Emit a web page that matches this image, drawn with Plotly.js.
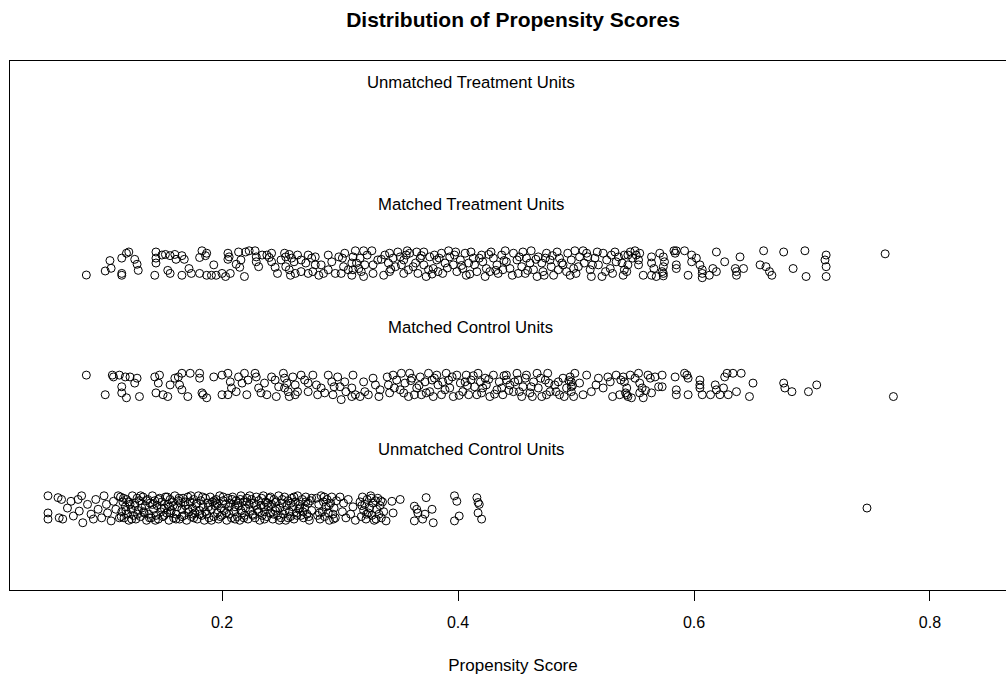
<!DOCTYPE html>
<html><head><meta charset="utf-8">
<script src="https://cdn.plot.ly/plotly-3.0.1.min.js"></script>
<style>html,body{margin:0;padding:0;overflow:hidden;background:#fff}#chart{width:1026px;height:675px}</style>
</head><body><div id="chart"></div>
<script>
// Group labels and their row levels (top to bottom)
const groupNames = ["Unmatched Treatment Units","Matched Treatment Units","Matched Control Units","Unmatched Control Units"];
const groupLevels = [4, 3, 2, 1];

// Each point: [propensity score, vertical jitter]
const unmatchedTreatment = [];

const matchedTreatment = [
[0.085,-0.098],[0.101,-0.065],[0.106,-0.043],[0.105,0.02],[0.115,0.04],[0.119,0.08],[0.121,0.09],[0.126,0.03],[0.128,-0.01],[0.129,-0.06],[0.115,-0.085],[0.115,-0.10],[0.144,0.09],[0.149,0.065],[0.152,0.07],[0.156,0.06],[0.160,0.07],[0.166,0.06],[0.168,0.03],[0.161,0.03],[0.144,0.04],[0.144,0.0],[0.143,-0.1],[0.154,-0.06],[0.156,-0.085],[0.166,-0.1],[0.172,-0.045],[0.174,-0.085],[0.183,0.1],[0.187,0.08],[0.186,0.06],[0.181,0.045],[0.193,-0.015],[0.181,-0.085],[0.187,-0.1],[0.191,-0.1],[0.195,-0.1],[0.200,-0.085],[0.203,-0.11],[0.205,0.08],[0.206,0.05],[0.205,0.03],[0.207,-0.085],[0.214,0.09],[0.216,0.025],[0.212,-0.01],[0.215,-0.035],[0.219,-0.11],[0.220,0.09],[0.223,0.1],[0.228,0.1],[0.229,0.05],[0.229,0.01],[0.231,-0.03],[0.234,0.065],[0.238,0.065],[0.242,0.08],[0.240,0.045],[0.242,0.01],[0.245,-0.035],[0.247,-0.085],[0.253,0.08],[0.254,0.05],[0.257,0.07],[0.259,0.04],[0.261,0.01],[0.254,-0.03],[0.257,-0.055],[0.258,-0.1],[0.262,-0.085],[0.267,-0.07],[0.271,0.0],[0.273,0.065],[0.276,0.04],[0.279,0.05],[0.279,-0.015],[0.282,-0.1],[0.286,-0.085],[0.290,-0.055],[0.293,0.01],[0.299,0.05],[0.302,0.04],[0.304,0.08],[0.303,-0.03],[0.301,-0.085],[0.310,0.0],[0.310,-0.1],[0.307,-0.055],[0.250,0.025],[0.264,0.065],[0.267,0.025],[0.273,-0.085],[0.277,-0.07],[0.290,0.065],[0.296,-0.085],[0.284,-0.015],
[0.313,0.10],[0.320,0.10],[0.327,0.10],[0.311,0.05],[0.317,0.04],[0.323,0.065],[0.314,0.0],[0.321,-0.015],[0.328,-0.015],[0.311,-0.055],[0.318,-0.07],[0.320,-0.11],[0.328,-0.085],[0.337,-0.1],[0.338,0.065],[0.342,0.08],[0.345,0.04],[0.349,0.09],[0.351,0.05],[0.354,0.025],[0.341,0.0],[0.347,-0.03],[0.352,-0.015],[0.342,-0.07],[0.354,-0.085],[0.358,-0.055],[0.359,0.08],[0.365,0.09],[0.371,0.09],[0.368,0.04],[0.364,0.0],[0.371,-0.015],[0.366,-0.085],[0.373,-0.11],[0.376,0.05],[0.380,0.065],[0.382,0.025],[0.379,-0.045],[0.383,-0.07],[0.387,-0.085],[0.389,0.0],[0.392,0.10],[0.393,0.05],[0.396,-0.015],[0.399,-0.07],[0.402,0.025],[0.406,0.08],[0.404,-0.045],[0.407,-0.1],[0.411,0.09],[0.413,0.04],[0.414,-0.015],[0.416,-0.07],[0.420,0.065],[0.421,0.01],[0.423,-0.11],[0.424,-0.045],[0.428,0.09],[0.430,0.04],[0.433,-0.015],[0.434,-0.085],[0.437,0.065],[0.440,0.10],[0.441,0.01],[0.444,-0.045],[0.447,0.08],[0.450,0.025],[0.451,-0.085],[0.454,-0.03],[0.455,0.09],[0.458,0.04],[0.461,0.0],[0.462,0.10],[0.464,-0.055],[0.467,-0.11],[0.468,0.05],[0.471,0.0],[0.472,-0.07],[0.475,0.08],[0.478,0.025],[0.479,-0.03],[0.481,-0.1],[0.484,0.09],[0.486,0.04],[0.489,-0.015],[0.492,-0.07],[0.493,0.08],[0.496,0.025],[0.498,-0.045],[0.500,-0.085],[0.503,0.05],[0.506,0.10],[0.507,0.0],[0.509,0.08],[0.512,-0.055],[0.513,-0.11],[0.516,0.04],[0.519,-0.015],[0.522,-0.11],[0.523,0.08],[0.526,0.025],[0.529,-0.045],[0.531,-0.085],[0.533,0.09],[0.536,0.05],[0.539,0.0],[0.541,-0.055],[0.544,0.065],[0.316,-0.045],[0.332,0.025],[0.356,0.065],[0.375,-0.055],[0.386,0.08],[0.397,0.065],[0.409,0.0],[0.427,-0.07],[0.438,-0.055],[0.457,-0.085],[0.474,0.04],[0.485,-0.055],[0.499,0.10],[0.514,-0.015],[0.530,0.065],
[0.335,0.03],[0.343,-0.05],[0.357,0.1],[0.362,-0.03],[0.369,0.06],[0.378,-0.09],[0.384,0.04],[0.391,-0.04],[0.398,0.09],[0.403,-0.02],[0.410,-0.09],[0.418,0.04],[0.426,0.07],[0.432,-0.06],[0.439,0.02],[0.446,-0.1],[0.452,0.05],[0.459,-0.06],[0.466,0.03],[0.473,-0.1],[0.480,0.06],[0.488,0.0],[0.495,-0.1],[0.502,-0.03],[0.510,0.05],[0.518,0.09],[0.525,-0.07],[0.534,0.01],[0.540,-0.1],[0.548,0.04],
[0.541,0.065],[0.543,-0.07],[0.544,-0.015],[0.546,0.09],[0.550,0.10],[0.551,0.065],[0.553,0.025],[0.553,-0.015],[0.554,0.08],[0.564,0.05],[0.564,0.0],[0.566,-0.045],[0.557,-0.1],[0.564,-0.1],[0.568,-0.11],[0.571,0.08],[0.574,0.05],[0.575,0.01],[0.574,-0.03],[0.573,-0.07],[0.574,-0.085],[0.574,-0.105],[0.583,0.10],[0.585,0.10],[0.585,-0.015],[0.585,-0.045],[0.584,0.08],[0.592,0.10],[0.595,-0.1],[0.598,0.065],[0.598,0.01],[0.602,0.04],[0.605,-0.015],[0.607,-0.055],[0.607,-0.085],[0.607,-0.12],[0.613,-0.1],[0.616,-0.045],[0.619,-0.07],[0.619,0.09],[0.626,0.01],[0.635,-0.045],[0.636,-0.07],[0.636,-0.1],[0.639,0.05],[0.642,-0.045],[0.656,-0.015],[0.659,0.10],[0.661,-0.03],[0.664,-0.07],[0.666,-0.1],[0.676,0.09],[0.684,-0.045],[0.694,0.10],[0.695,-0.11],[0.712,0.065],[0.711,0.025],[0.712,-0.03],[0.712,-0.11],[0.762,0.075]
];

const matchedControl = [
[0.085,0.085],[0.101,-0.075],[0.107,0.085],[0.108,0.07],[0.113,0.085],[0.118,0.07],[0.122,0.07],[0.128,0.06],[0.126,0.02],[0.115,-0.01],[0.115,-0.06],[0.119,-0.10],[0.130,-0.09],[0.143,0.07],[0.147,0.085],[0.146,0.02],[0.144,-0.06],[0.150,-0.075],[0.154,-0.09],[0.156,0.005],[0.160,0.06],[0.163,0.07],[0.166,0.10],[0.173,0.10],[0.164,0.005],[0.166,-0.035],[0.171,-0.09],[0.181,0.10],[0.181,0.06],[0.183,-0.06],[0.184,-0.075],[0.187,-0.10],[0.193,0.07],[0.200,0.085],[0.200,-0.075],[0.205,0.10],[0.207,0.03],[0.208,-0.02],[0.205,-0.075],[0.212,-0.05],[0.214,0.07],[0.217,0.02],[0.219,0.10],[0.221,-0.075],[0.222,0.045],[0.228,0.10],[0.229,0.07],[0.231,-0.02],[0.233,-0.06],[0.238,-0.075],[0.242,0.07],[0.245,0.045],[0.246,-0.09],[0.252,0.10],[0.253,0.06],[0.255,0.02],[0.253,-0.02],[0.256,-0.05],[0.257,-0.09],[0.262,0.005],[0.262,-0.075],[0.267,0.085],[0.270,0.045],[0.273,0.02],[0.273,-0.05],[0.277,0.085],[0.280,0.005],[0.281,-0.075],[0.284,-0.02],[0.290,0.085],[0.293,0.03],[0.295,-0.01],[0.294,-0.075],[0.298,0.07],[0.301,-0.115],[0.304,0.03],[0.305,-0.05],[0.310,-0.02],[0.310,-0.09],[0.248,-0.01],[0.260,0.07],[0.287,-0.06],[0.300,-0.01],[0.236,0.02],[0.264,-0.05],
[0.311,0.085],[0.313,-0.075],[0.317,-0.09],[0.320,0.03],[0.321,-0.05],[0.324,-0.075],[0.328,0.06],[0.330,0.005],[0.333,-0.09],[0.340,0.07],[0.341,0.005],[0.342,-0.06],[0.345,0.085],[0.348,0.045],[0.351,-0.035],[0.352,0.10],[0.355,0.02],[0.358,-0.09],[0.359,0.10],[0.361,0.06],[0.365,-0.02],[0.368,0.07],[0.369,-0.075],[0.372,0.03],[0.375,0.10],[0.376,-0.05],[0.379,-0.09],[0.382,0.085],[0.383,0.005],[0.386,-0.075],[0.390,0.10],[0.392,0.045],[0.393,-0.02],[0.396,-0.09],[0.399,0.085],[0.402,0.02],[0.404,-0.05],[0.407,0.085],[0.409,-0.075],[0.411,0.045],[0.414,-0.01],[0.417,0.10],[0.420,-0.06],[0.423,0.06],[0.424,0.005],[0.427,-0.09],[0.430,0.085],[0.433,-0.035],[0.435,0.03],[0.438,-0.075],[0.441,0.085],[0.444,0.005],[0.447,-0.05],[0.450,0.10],[0.451,0.045],[0.454,-0.09],[0.455,-0.01],[0.458,0.085],[0.461,-0.06],[0.464,0.03],[0.467,0.10],[0.468,-0.02],[0.471,-0.09],[0.474,0.045],[0.476,0.10],[0.478,-0.05],[0.482,0.005],[0.486,-0.075],[0.489,0.06],[0.495,0.07],[0.496,0.03],[0.496,-0.01],[0.496,-0.05],[0.498,-0.09],[0.499,0.10],[0.506,-0.075],[0.509,0.085],[0.517,0.005],[0.519,0.06],[0.523,-0.02],[0.527,0.07],[0.531,-0.09],[0.534,0.085],[0.537,-0.075],[0.538,0.045],[0.543,-0.02],[0.544,-0.09],[0.334,-0.035],[0.363,-0.075],[0.378,0.045],[0.389,-0.035],[0.406,0.03],[0.421,-0.02],[0.437,-0.02],[0.448,0.03],[0.462,-0.01],[0.475,-0.075],[0.485,0.03],[0.492,-0.02],[0.416,-0.075],[0.441,0.045],
[0.346,-0.02],[0.354,-0.06],[0.360,0.04],[0.367,0.0],[0.373,-0.06],[0.380,0.06],[0.387,0.03],[0.395,0.07],[0.401,-0.08],[0.408,0.0],[0.413,0.08],[0.419,0.03],[0.426,0.05],[0.431,-0.07],[0.439,0.08],[0.443,-0.04],[0.452,-0.05],[0.457,0.06],[0.463,-0.09],[0.470,0.06],[0.477,0.02],[0.483,-0.05],[0.490,-0.09],[0.494,0.04],[0.497,0.0],[0.503,0.02],[0.513,-0.05],[0.529,0.03],[0.541,0.03],[0.559,-0.04],
[0.540,0.07],[0.542,-0.06],[0.543,-0.075],[0.546,0.085],[0.547,-0.10],[0.550,0.06],[0.553,0.10],[0.554,0.02],[0.556,-0.02],[0.554,-0.06],[0.557,-0.10],[0.561,0.085],[0.563,0.06],[0.564,-0.06],[0.567,0.07],[0.570,-0.01],[0.573,0.085],[0.573,-0.01],[0.584,0.07],[0.585,-0.035],[0.585,-0.075],[0.592,0.10],[0.594,0.085],[0.595,0.06],[0.595,-0.075],[0.605,0.045],[0.605,0.005],[0.605,-0.02],[0.607,-0.075],[0.614,-0.075],[0.618,0.005],[0.619,-0.035],[0.622,-0.075],[0.625,-0.02],[0.626,0.07],[0.628,0.10],[0.629,-0.075],[0.633,0.10],[0.636,-0.05],[0.640,0.10],[0.647,-0.09],[0.650,0.02],[0.676,0.02],[0.677,-0.02],[0.683,-0.05],[0.697,-0.05],[0.704,0.005],[0.769,-0.09]
];

const unmatchedControl = [
[0.0525,0.10],[0.0525,-0.04],[0.0525,-0.09],[0.061,0.085],[0.064,0.07],[0.062,-0.08],[0.065,-0.09],[0.069,0.0],[0.074,-0.065],[0.072,0.055],[0.078,0.07],[0.081,0.10],[0.079,-0.025],[0.082,-0.12],[0.086,0.03],[0.089,-0.05],[0.091,-0.09],[0.093,0.07],[0.095,-0.01],[0.098,-0.08],[0.100,0.10],[0.102,0.03],[0.103,-0.04],[0.106,-0.105],[0.108,0.055],[0.110,-0.01],[0.112,0.10],[0.113,-0.08],
[0.114,0.09],[0.115,-0.03],[0.116,0.05],[0.117,-0.08],[0.118,0.01],[0.119,0.07],[0.120,-0.05],[0.121,-0.1],[0.122,0.03],[0.123,-0.01],[0.124,0.1],[0.125,-0.06],[0.126,0.04],[0.127,-0.09],[0.128,0.08],[0.129,-0.02],[0.130,0.06],[0.131,-0.07],[0.132,0.0],[0.133,0.09],[0.134,-0.04],[0.135,0.02],[0.136,-0.1],[0.137,0.07],[0.138,-0.05],[0.139,0.04],[0.140,-0.08],[0.141,0.1],[0.142,-0.01],[0.143,0.06],[0.144,-0.06],[0.145,0.02],[0.146,-0.09],[0.147,0.08],[0.148,-0.03],[0.149,0.05],[0.150,-0.07],[0.151,0.0],[0.152,0.09],[0.153,-0.04],[0.154,0.03],[0.155,-0.1],[0.156,0.07],[0.157,-0.02],[0.158,0.05],[0.159,-0.08],[0.160,0.1],[0.161,-0.05],[0.162,0.01],[0.163,0.06],[0.164,-0.09],[0.165,0.04],[0.166,-0.01],[0.167,0.08],[0.168,-0.06],[0.169,0.02],[0.170,-0.1],[0.171,0.09],[0.172,-0.03],[0.173,0.05],[0.174,-0.07],[0.175,0.0],[0.176,0.07],[0.177,-0.04],[0.178,0.03],[0.179,-0.09],[0.180,0.1],[0.181,-0.02],[0.182,0.06],[0.183,-0.06],[0.184,0.01],[0.185,-0.1],[0.186,0.08],[0.187,-0.05],[0.188,0.04],[0.189,-0.08],[0.190,0.09],[0.191,-0.01],[0.192,0.05],[0.193,-0.07],[0.194,0.02],[0.195,0.07],[0.196,-0.04],[0.197,-0.09],[0.198,0.1],[0.199,0.0],[0.200,-0.06],[0.201,0.06],[0.202,-0.02],[0.203,0.03],[0.204,-0.1],[0.205,0.08],[0.206,-0.05],[0.207,0.04],[0.208,-0.08],[0.209,0.09],[0.210,-0.03],[0.211,0.01],[0.212,0.06],[0.213,-0.07],[0.214,0.02],[0.215,-0.1],[0.216,0.1],[0.217,-0.04],[0.218,0.05],[0.219,-0.06],[0.220,0.0],[0.221,0.08],[0.222,-0.09],[0.223,0.03],[0.224,-0.02],[0.225,0.07],[0.226,-0.05],[0.227,0.04],[0.228,-0.08],[0.229,0.09],[0.230,-0.01],[0.231,0.06],[0.232,-0.1],[0.233,0.02],[0.234,-0.06],[0.235,0.1],[0.236,-0.03],[0.237,0.05],[0.238,-0.07],[0.239,0.01],[0.240,0.08],[0.241,-0.04],[0.242,0.03],[0.243,-0.09],[0.244,0.07],[0.245,-0.02],[0.246,0.05],[0.247,-0.06],[0.248,0.1],[0.249,0.0],[0.250,-0.08],[0.251,0.04],[0.252,-0.05],[0.253,0.09],[0.254,-0.1],[0.255,0.02],[0.256,0.06],[0.257,-0.03],[0.258,-0.07],[0.259,0.08],[0.260,0.01],[0.261,-0.09],[0.262,0.05],[0.263,-0.04],[0.264,0.1],[0.265,-0.01],[0.266,0.03],[0.267,-0.06],[0.268,0.07],[0.269,-0.08],[0.270,0.0],[0.271,0.09],[0.272,-0.05],[0.273,0.04],[0.274,-0.1],[0.275,0.06],[0.276,-0.02],
[0.1145,-0.07],[0.1165,0.08],[0.1185,-0.02],[0.121,0.05],[0.1235,-0.09],[0.126,0.02],[0.1285,-0.05],[0.131,0.1],[0.1335,-0.03],[0.136,0.06],[0.1385,-0.08],[0.141,0.03],[0.1435,-0.1],[0.146,0.07],[0.1485,0.0],[0.151,-0.06],[0.1535,0.09],[0.156,-0.04],[0.1585,0.02],[0.161,-0.09],[0.1635,0.08],[0.166,-0.07],[0.1685,0.05],[0.171,-0.01],[0.1735,0.1],[0.176,-0.08],[0.1785,0.04],[0.181,-0.05],[0.1835,0.09],[0.186,-0.03],[0.1885,0.01],[0.191,-0.1],[0.1935,0.06],[0.196,0.03],[0.1985,-0.07],[0.201,0.09],[0.2035,-0.04],[0.206,0.01],[0.2085,0.07],[0.211,-0.09],[0.2135,0.04],[0.216,-0.02],[0.2185,-0.08],[0.221,0.05],[0.2235,0.1],[0.226,-0.06],[0.2285,0.02],[0.231,-0.03],[0.2335,0.08],[0.236,-0.09],[0.2385,0.04],[0.241,0.09],[0.2435,-0.05],[0.246,0.0],[0.2485,-0.1],[0.251,0.07],[0.2535,-0.02],[0.256,-0.08],[0.2585,0.04],[0.261,0.09],[0.2635,-0.06],[0.266,0.0],[0.2685,-0.03],[0.271,0.05],[0.2735,-0.07],[0.276,0.08],[0.1555,0.01],[0.1755,-0.05],[0.1955,0.04],[0.2155,0.07],[0.2355,0.01],
[0.280,0.08],[0.281,-0.06],[0.282,0.03],[0.283,-0.09],[0.284,0.1],[0.285,-0.03],[0.286,0.05],[0.287,-0.07],[0.288,0.01],[0.289,0.07],[0.290,-0.04],[0.291,-0.1],[0.292,0.04],[0.293,0.09],[0.294,-0.05],[0.295,0.0],[0.296,-0.08],[0.297,0.06],[0.2825,-0.04],[0.2865,0.09],[0.2905,0.02],[0.2945,-0.09],
[0.300,0.09],[0.302,-0.03],[0.303,0.04],[0.305,-0.08],[0.307,0.07],[0.309,-0.05],[0.311,0.01],[0.313,-0.1],
[0.317,0.05],[0.318,-0.07],[0.319,0.09],[0.320,-0.02],[0.321,0.03],[0.322,-0.09],[0.323,0.07],[0.324,-0.04],[0.325,0.0],[0.326,0.1],[0.327,-0.06],[0.328,0.04],[0.329,-0.1],[0.330,0.06],[0.331,-0.01],[0.332,0.08],[0.333,-0.05],[0.334,0.02],[0.335,-0.08],[0.336,0.05],[0.337,-0.03],[0.3185,0.02],[0.3225,-0.05],[0.3265,0.08],[0.3305,-0.09],[0.3345,0.06],
[0.344,0.055],[0.351,0.07],[0.345,-0.04],[0.339,-0.105],[0.363,0.015],[0.365,-0.01],[0.366,-0.04],[0.363,-0.105],[0.370,-0.09],[0.373,0.085],[0.372,-0.05],[0.378,-0.01],[0.379,-0.12],[0.397,0.10],[0.399,0.055],[0.401,-0.065],[0.397,-0.105],[0.416,0.085],[0.417,0.045],[0.418,0.03],[0.417,-0.04],[0.420,-0.09],
[0.7466,0.0]
];

const tickVals = [0.2, 0.4, 0.6, 0.8];
const tickText = ["0.2", "0.4", "0.6", "0.8"];

const groups = [unmatchedTreatment, matchedTreatment, matchedControl, unmatchedControl];
const allScores = groups.flat().map(p => p[0]);
const labelX = (Math.min(...allScores) + Math.max(...allScores)) / 2;

const FONT = "Liberation Sans, Arial, sans-serif";

const traces = groups.map((pts, i) => ({
  type: 'scatter', mode: 'markers',
  x: pts.map(p => p[0]),
  y: pts.map(p => groupLevels[i] + p[1]),
  marker: {symbol: 'circle-open', size: 8, color: '#000', line: {width: 1, color: '#000'}},
  hoverinfo: 'x', showlegend: false
}));

const annotations = groupNames.map((name, i) => ({
  x: labelX, y: groupLevels[i] + 0.475, xref: 'x', yref: 'y',
  text: name, showarrow: false, xanchor: 'center', yanchor: 'middle',
  font: {family: FONT, size: 16.7, color: '#000'}
}));

const layout = {
  width: 1026, height: 675,
  margin: {l: 10, r: 10, t: 61, b: 85},
  paper_bgcolor: '#fff', plot_bgcolor: '#fff',
  font: {family: FONT, color: '#000'},
  title: {text: '<b>Distribution of Propensity Scores</b>', font: {family: FONT, size: 21, color: '#000'},
          x: 0.5, xref: 'paper', xanchor: 'center', y: 1 - 20/675, yref: 'container', yanchor: 'middle'},
  xaxis: {
    range: [0.0203, 0.8729], showgrid: false, zeroline: false,
    showline: true, mirror: true, linecolor: '#000', linewidth: 1,
    ticks: 'outside', ticklen: 10, tickwidth: 1, tickcolor: '#000',
    ticklabelstandoff: 8,
    tickvals: tickVals, ticktext: tickText,
    tickfont: {family: FONT, size: 16, color: '#000'},
    title: {text: 'Propensity Score', font: {family: FONT, size: 17, color: '#000'}, standoff: 28}
  },
  yaxis: {
    range: [0.331, 4.649], showgrid: false, zeroline: false,
    showline: true, mirror: true, linecolor: '#000', linewidth: 1,
    ticks: '', showticklabels: false
  },
  annotations: annotations
};

Plotly.newPlot('chart', traces, layout, {displayModeBar: false, responsive: false});
</script>
</body></html>
